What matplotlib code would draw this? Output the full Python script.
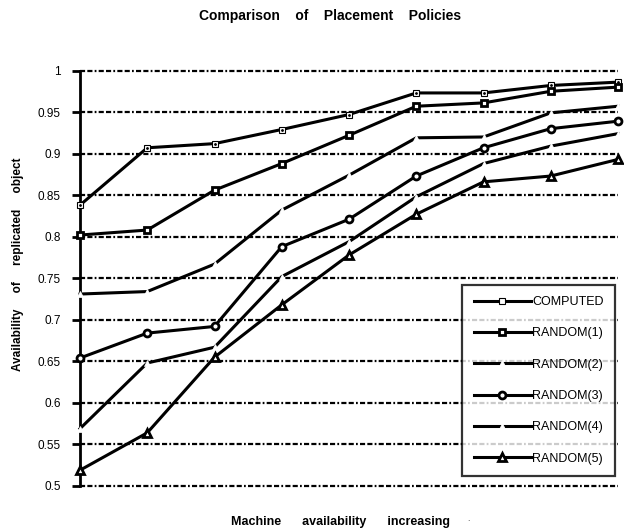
import matplotlib
matplotlib.use("Agg")
import matplotlib.pyplot as plt

plt.rcParams['font.family'] = ['Liberation Sans', 'DejaVu Sans']

x_points = list(range(9))
series_names = ["COMPUTED", "RANDOM(1)", "RANDOM(2)", "RANDOM(3)", "RANDOM(4)", "RANDOM(5)"]
computed = [0.838, 0.907, 0.912, 0.929, 0.947, 0.973, 0.973, 0.982, 0.986]
random1 = [0.802, 0.808, 0.856, 0.888, 0.922, 0.957, 0.961, 0.975, 0.980]
random2 = [0.731, 0.734, 0.767, 0.832, 0.874, 0.919, 0.920, 0.949, 0.957]
random3 = [0.654, 0.684, 0.692, 0.788, 0.821, 0.873, 0.907, 0.930, 0.939]
random4 = [0.569, 0.648, 0.667, 0.752, 0.794, 0.848, 0.888, 0.909, 0.924]
random5 = [0.519, 0.564, 0.655, 0.718, 0.778, 0.827, 0.866, 0.873, 0.893]
y_ticks = [0.5, 0.55, 0.6, 0.65, 0.7, 0.75, 0.8, 0.85, 0.9, 0.95, 1.0]
y_tick_labels = ["0.5", "0.55", "0.6", "0.65", "0.7", "0.75", "0.8", "0.85", "0.9", "0.95", "1"]

fig = plt.figure(figsize=(6.24, 5.31), dpi=100)
ax = fig.add_axes([80/624, 1-486/531, (618-80)/624, (486-70.5)/531])

styles = [
    dict(marker='s', ms=5, mfc='white', mec='black', mew=0.8),
    dict(marker='s', ms=5, mfc='white', mec='black', mew=2.0),
    dict(marker='^', ms=5, mfc='white', mec='white', mew=0.5),
    dict(marker='o', ms=5, mfc='white', mec='black', mew=2.0),
    dict(marker='^', ms=5, mfc='white', mec='white', mew=0.5),
    dict(marker='^', ms=6, mfc='white', mec='black', mew=2.0),
]
data = [computed, random1, random2, random3, random4, random5]

for ys, name, st in zip(data, series_names, styles):
    ax.plot(x_points, ys, color='black', lw=2.2, label=name, clip_on=False, zorder=3, **st)
# dot inside computed markers
ax.plot(x_points, computed, linestyle='none', marker='.', ms=2, color='black', clip_on=False, zorder=4)

for yv in y_ticks:
    ax.axhline(yv, color='black', lw=1.6, dashes=(2.3, 1.0, 2.3, 1.0, 0.8, 1.0), zorder=1, clip_on=False)

ax.set_xlim(0, 8)
ax.set_ylim(0.5, 1.0)
ax.set_yticks(y_ticks)
ax.set_yticklabels(y_tick_labels, fontsize=8.5)
ax.set_xticks([])
for s in ['top', 'right', 'bottom']:
    ax.spines[s].set_visible(False)
ax.spines['left'].set_linewidth(2)
ax.spines['left'].set_zorder(2)
ax.tick_params(axis='y', direction='out', length=6, width=2, pad=8, colors='black')

fig.text(330/624, 1-16/531, "Comparison    of    Placement    Policies", ha='center', va='center',
         fontsize=10, fontweight='bold')
fig.text(341/624, 1-522/531, "Machine      availability      increasing", ha='center', va='center',
         fontsize=9, fontweight='bold')
fig.text(468/624, 1-522/531, "\u00b7", ha='center', va='center', fontsize=5)
fig.text(18/624, 1-264/531, "Availability     of     replicated     object", ha='center', va='center',
         rotation=90, fontsize=8.5, fontweight='bold')

handles, labels = ax.get_legend_handles_labels()
leg = ax.legend(handles, labels, loc='lower right', bbox_to_anchor=(615/624, 1-476/531),
                bbox_transform=fig.transFigure, fontsize=9, frameon=True, fancybox=False,
                handlelength=4.6, handletextpad=0.1, labelspacing=1.55, borderpad=0.9,
                borderaxespad=0)
leg.get_frame().set_edgecolor('black')
leg.get_frame().set_linewidth(1.6)
leg.set_zorder(5)

fig.savefig("out.png", dpi=100)
